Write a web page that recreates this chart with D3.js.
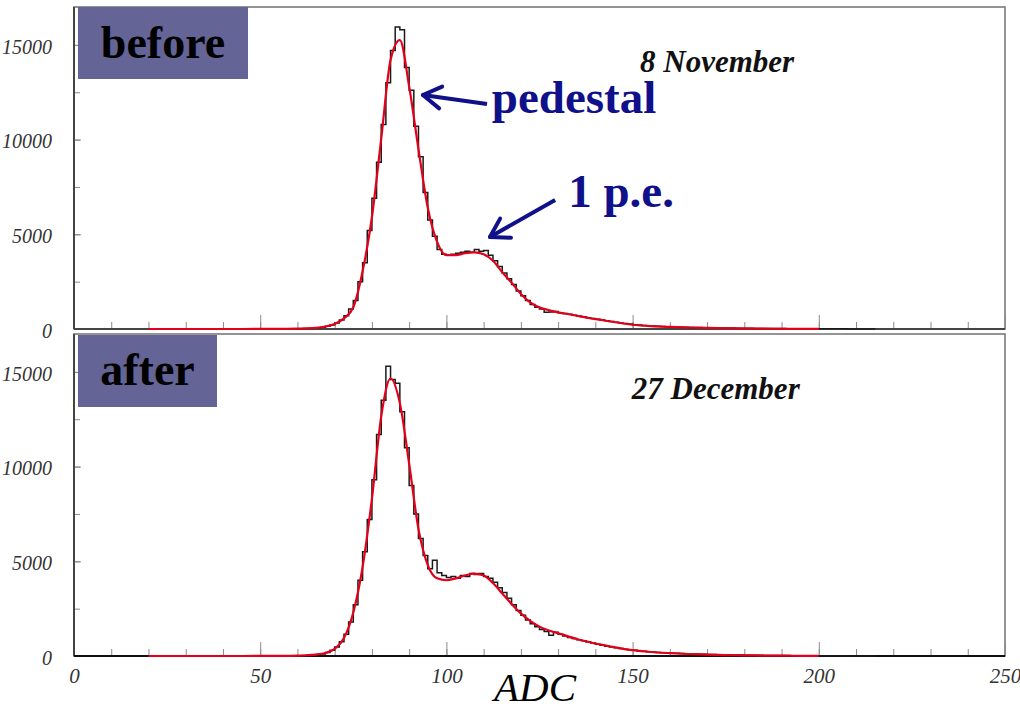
<!DOCTYPE html>
<html>
<head>
<meta charset="utf-8">
<script src="https://cdn.jsdelivr.net/npm/d3@7"></script>
<style>
  body { margin: 0; background: #fff; }
  svg { display: block; }
</style>
</head>
<body>
<div id="chart"></div>
<script>
// histogram bins: 1.25 ADC wide, first bin starts at ADC 60
var binStart = 60;
var binWidth = 1.25;

// counts per bin, 8 November (before)
var histBefore = [
  15, 20, 30, 45, 65, 95, 140, 210, 320, 470,
  700, 1050, 1500, 2500, 3500, 5200, 6900, 8800, 10800, 13000,
  14700, 15950, 15800, 13800, 12600, 10700, 9100, 7200, 5750, 4900,
  4200, 3950, 3900, 3950, 4000, 4050, 4100, 4050, 4200, 4100,
  4150, 3900, 3600, 3300, 2950, 2650, 2350, 2000, 1750, 1500,
  1300, 1150, 1050, 880, 900, 920, 860, 820, 780, 730,
  690, 650, 600, 560, 520, 480, 440, 400, 360, 320,
  290, 260, 230, 210, 190, 175, 160, 145, 130, 120,
  110, 100, 95, 90, 85, 80, 75, 70, 66, 62,
  58, 54, 50, 47, 44, 41, 38, 35, 33, 31,
  29, 27, 25, 23, 21, 19, 18, 17, 16, 15,
  14, 13, 12, 11, 10, 9, 8, 7, 6, 5,
  4, 3, 2, 1
];

// counts per bin, 27 December (after)
var histAfter = [
  15, 25, 35, 50, 75, 110, 190, 300, 480, 750,
  1150, 1800, 2700, 4000, 5500, 7200, 9300, 11700, 13500, 15300,
  14600, 14400, 12900, 11000, 9000, 7500, 6200, 5300, 4600, 5050,
  4400, 4250, 4150, 4200, 4100, 4250, 4200, 4350, 4300, 4350,
  4200, 4100, 3900, 3600, 3350, 3050, 2700, 2400, 2150, 1900,
  1700, 1550, 1400, 1300, 1100, 1250, 1150, 1050, 980, 920,
  860, 800, 740, 680, 620, 570, 520, 480, 440, 400,
  360, 330, 300, 270, 245, 225, 205, 190, 175, 160,
  150, 140, 130, 120, 112, 104, 96, 89, 82, 76,
  70, 65, 60, 55, 51, 47, 43, 40, 37, 34,
  31, 28, 26, 24, 22, 20, 18, 16, 15, 14,
  13, 12, 11, 10, 9, 8, 7, 6, 5, 4,
  3, 2, 1, 0
];

// fitted curve, sampled points
var fitAdc = [
  20, 40, 50, 55, 60, 62.5, 65, 67.5, 70, 72.5,
  75, 77.5, 80, 82.5, 85, 87.5, 90, 92.5, 95, 97.5,
  100, 102.5, 105, 107.5, 110, 112.5, 115, 117.5, 120, 122.5,
  125, 127.5, 130, 132.5, 135, 137.5, 140, 142.5, 145, 147.5,
  150, 155, 160, 165, 170, 175, 180, 185, 190, 195, 200
];
var fitBefore = [
  0, 0, 2, 5, 15, 30, 60, 130, 260, 560,
  1150, 3050, 5900, 10050, 14200, 15250, 12800, 9500, 6400, 4600,
  3900, 3900, 4000, 4050, 3950, 3600, 3000, 2450, 1850, 1400,
  1130, 1000, 880, 790, 700, 610, 520, 450, 370, 290,
  225, 150, 110, 80, 55, 38, 25, 15, 10, 6, 3
];
var fitAfter = [
  0, 0, 3, 8, 22, 40, 75, 160, 380, 950,
  2300, 4700, 8300, 12650, 14650, 13350, 10150, 6700, 4800, 4100,
  4000, 4100, 4250, 4350, 4250, 3850, 3300, 2750, 2250, 1850,
  1550, 1350, 1200, 1050, 900, 780, 660, 560, 470, 380,
  310, 210, 150, 105, 75, 50, 35, 25, 15, 10, 5
];

var xTickLabels = [0, 50, 100, 150, 200, 250];
var yTickLabels = [0, 5000, 10000, 15000];
var panelTags = ["before", "after"];
var panelDates = ["8 November", "27 December"];

// layout
var width = 1020, height = 712;
var plotLeft = 74, plotRight = 1005;
var panelTop = [7, 334], panelBottom = [329, 656];
var yMax = 17000;
var navy = "#10108a";

var x = d3.scaleLinear().domain([0, 250]).range([plotLeft, plotRight]);

var svg = d3.select("#chart").append("svg")
  .attr("width", width)
  .attr("height", height);

var panels = [
  { tag: panelTags[0], date: panelDates[0], dateAdc: 152, hist: histBefore, fit: fitBefore, tagW: 170 },
  { tag: panelTags[1], date: panelDates[1], dateAdc: 149.8, hist: histAfter, fit: fitAfter, tagW: 139 }
];

function arrow(g, x1, y1, x2, y2) {
  // line from tail (x1,y1) to head (x2,y2), open head
  var a = Math.atan2(y2 - y1, x2 - x1), len = 21, spread = 0.55;
  g.append("line").attr("x1", x1).attr("y1", y1).attr("x2", x2).attr("y2", y2)
    .attr("stroke", navy).attr("stroke-width", 4);
  [-spread, spread].forEach(function (s) {
    g.append("line")
      .attr("x1", x2).attr("y1", y2)
      .attr("x2", x2 - len * Math.cos(a + s)).attr("y2", y2 - len * Math.sin(a + s))
      .attr("stroke", navy).attr("stroke-width", 4).attr("stroke-linecap", "round");
  });
}

panels.forEach(function (p, k) {
  var y = d3.scaleLinear().domain([0, yMax]).range([panelBottom[k], panelTop[k]]);
  var g = svg.append("g");

  /* frame */
  g.append("rect")
    .attr("x", plotLeft).attr("y", panelTop[k])
    .attr("width", plotRight - plotLeft).attr("height", panelBottom[k] - panelTop[k])
    .attr("fill", "none").attr("stroke", "#7a7a7a").attr("stroke-width", 1.6);

  /* x ticks (inward) */
  var xMinor = d3.axisBottom(x).tickValues(d3.range(0, 251, 10)).tickSize(-7).tickFormat("");
  var xMajor = d3.axisBottom(x).tickValues(xTickLabels).tickSize(-14).tickPadding(12)
    .tickFormat(k === 1 ? d3.format("d") : "");
  [xMinor, xMajor].forEach(function (ax) {
    var a = g.append("g")
      .attr("transform", "translate(0," + panelBottom[k] + ")")
      .call(ax);
    a.select(".domain").remove();
    a.selectAll(".tick line").attr("stroke", "#8a8a8a").attr("stroke-width", 1);
    a.selectAll("text")
      .style("font-family", "'Liberation Serif', serif")
      .style("font-style", "italic")
      .style("font-size", "21px")
      .attr("fill", "#333");
  });

  /* y ticks (inward) */
  var yMinor = d3.axisLeft(y).tickValues(d3.range(0, yMax, 2500)).tickSize(-6).tickFormat("");
  var yMajor = d3.axisLeft(y).tickValues(yTickLabels).tickSize(-7).tickPadding(22).tickFormat(d3.format("d"));
  [yMinor, yMajor].forEach(function (ax) {
    var a = g.append("g")
      .attr("transform", "translate(" + plotLeft + ",0)")
      .call(ax);
    a.select(".domain").remove();
    a.selectAll(".tick line").attr("stroke", "#8a8a8a").attr("stroke-width", 1);
    a.selectAll("text")
      .attr("dy", "0.42em")
      .style("font-family", "'Liberation Serif', serif")
      .style("font-style", "italic")
      .style("font-size", "20px")
      .attr("fill", "#333");
  });

  /* axis lines */
  g.append("line")
    .attr("x1", plotLeft).attr("x2", plotLeft)
    .attr("y1", panelTop[k]).attr("y2", panelBottom[k])
    .attr("stroke", "#444").attr("stroke-width", 2);
  g.append("line")
    .attr("x1", plotLeft).attr("x2", plotRight)
    .attr("y1", panelBottom[k]).attr("y2", panelBottom[k])
    .attr("stroke", k === 1 ? "#111" : "#444").attr("stroke-width", 2);

  /* histogram outline */
  var pts = [[binStart, 0]];
  p.hist.forEach(function (v, i) { pts.push([binStart + i * binWidth, v]); });
  pts.push([binStart + p.hist.length * binWidth, 0]);
  var step = d3.line()
    .x(d => x(d[0]))
    .y(d => y(d[1]))
    .curve(d3.curveStepAfter);
  g.append("path")
    .attr("d", step(pts))
    .attr("fill", "none")
    .attr("stroke", "#1a1a1a")
    .attr("stroke-width", 1.5);

  /* fit */
  var fitLine = d3.line()
    .x((d, i) => x(fitAdc[i]))
    .y(d => y(d))
    .curve(d3.curveMonotoneX);
  g.append("path")
    .attr("d", fitLine(p.fit))
    .attr("fill", "none")
    .attr("stroke", "#e3001b")
    .attr("stroke-width", 2.2);

  /* tag box */
  g.append("rect")
    .attr("x", plotLeft + 4).attr("y", panelTop[k] + (k === 0 ? 0 : 1))
    .attr("width", p.tagW).attr("height", 72)
    .attr("fill", "#646497");
  g.append("text")
    .attr("x", plotLeft + 4 + p.tagW / 2)
    .attr("y", panelTop[k] + 51)
    .attr("text-anchor", "middle")
    .style("font-family", "'Liberation Serif', serif")
    .style("font-weight", "bold")
    .style("font-size", "46px")
    .attr("fill", "#000")
    .text(p.tag);

  /* date */
  g.append("text")
    .attr("x", x(p.dateAdc))
    .attr("y", y(13570))
    .style("font-family", "'Liberation Serif', serif")
    .style("font-weight", "bold")
    .style("font-style", "italic")
    .style("font-size", "31px")
    .attr("fill", "#111")
    .text(p.date);

  /* annotations in the first panel */
  if (k === 0) {
    arrow(g, x(110.9), y(11880), x(93.7), y(12355));
    g.append("text")
      .attr("x", x(112.2)).attr("y", y(11404))
      .style("font-family", "'Liberation Serif', serif")
      .style("font-weight", "bold")
      .style("font-size", "47px")
      .attr("fill", navy)
      .text("pedestal");
    arrow(g, x(129.2), y(6811), x(111.7), y(4857));
    g.append("text")
      .attr("x", x(132.7)).attr("y", y(6441))
      .style("font-family", "'Liberation Serif', serif")
      .style("font-weight", "bold")
      .style("font-size", "47px")
      .attr("fill", navy)
      .text("1 p.e.");
  }
});

/* x axis title */
svg.append("text")
  .attr("x", 494)
  .attr("y", 701)
  .style("font-family", "'Liberation Serif', serif")
  .style("font-style", "italic")
  .style("font-size", "41px")
  .attr("fill", "#000")
  .text("ADC");
</script>
</body>
</html>
